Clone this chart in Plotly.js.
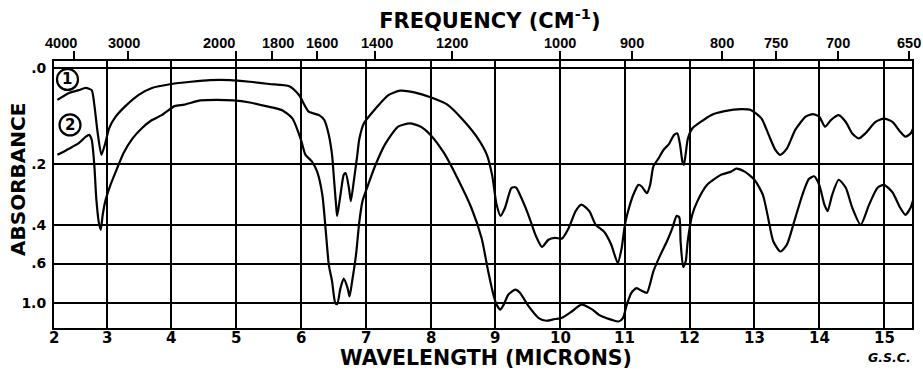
<!DOCTYPE html>
<html><head><meta charset="utf-8">
<script src="https://cdn.plot.ly/plotly-3.0.1.min.js"></script>
<style>html,body{margin:0;padding:0;background:#fff}</style>
</head><body><div id="chart" style="width:923px;height:370px"></div>
<script>
// Curve 1 (upper) : wavelength (microns) and absorbance
const wl1 = [2.24,2.42,2.57,2.68,2.77,2.81,2.86,2.92,2.98,3.04,3.14,3.29,3.49,3.70,4.00,4.30,4.60,4.90,5.21,5.51,5.82,5.97,6.12,6.28,6.36,6.43,6.48,6.51,6.55,6.56,6.61,6.66,6.69,6.74,6.77,6.82,6.87,6.90,6.97,7.15,7.35,7.53,7.75,8.00,8.26,8.53,8.74,8.87,8.95,9.02,9.08,9.15,9.25,9.32,9.38,9.51,9.62,9.72,9.82,9.92,10.03,10.13,10.24,10.33,10.45,10.55,10.68,10.79,10.89,10.95,11.00,11.05,11.13,11.21,11.26,11.34,11.39,11.44,11.52,11.60,11.68,11.76,11.81,11.85,11.89,11.91,11.94,11.97,12.04,12.17,12.33,12.54,12.80,12.95,13.11,13.22,13.32,13.40,13.50,13.63,13.79,13.90,14.00,14.09,14.18,14.30,14.41,14.51,14.61,14.71,14.87,15.00,15.13,15.25,15.33,15.41,15.46];
const abs1 = [0.057,0.044,0.039,0.035,0.039,0.066,0.122,0.176,0.148,0.114,0.090,0.069,0.048,0.035,0.028,0.024,0.021,0.021,0.024,0.028,0.032,0.048,0.080,0.087,0.097,0.129,0.176,0.241,0.345,0.363,0.289,0.229,0.224,0.267,0.310,0.241,0.176,0.139,0.104,0.074,0.048,0.040,0.043,0.052,0.066,0.101,0.139,0.176,0.229,0.322,0.363,0.333,0.267,0.266,0.289,0.359,0.443,0.502,0.466,0.457,0.460,0.414,0.345,0.322,0.345,0.399,0.429,0.491,0.597,0.509,0.399,0.345,0.289,0.258,0.263,0.284,0.258,0.206,0.185,0.163,0.150,0.129,0.126,0.150,0.195,0.202,0.172,0.139,0.115,0.101,0.087,0.079,0.075,0.077,0.094,0.129,0.163,0.176,0.161,0.118,0.090,0.085,0.090,0.111,0.097,0.087,0.101,0.126,0.137,0.126,0.101,0.094,0.101,0.122,0.133,0.126,0.111];
// Curve 2 (lower)
const wl2 = [2.24,2.42,2.57,2.68,2.73,2.77,2.81,2.84,2.88,2.91,2.94,2.98,3.06,3.16,3.26,3.39,3.54,3.70,3.85,4.05,4.20,4.45,4.70,4.95,5.21,5.46,5.71,5.87,6.00,6.07,6.17,6.25,6.33,6.38,6.43,6.48,6.53,6.56,6.61,6.66,6.72,6.75,6.79,6.85,6.90,6.95,7.02,7.15,7.30,7.50,7.68,7.85,8.00,8.21,8.42,8.63,8.79,8.89,8.97,9.02,9.08,9.13,9.20,9.31,9.38,9.51,9.67,9.79,9.92,10.02,10.18,10.33,10.50,10.60,10.71,10.80,10.90,10.97,11.03,11.10,11.18,11.26,11.34,11.44,11.55,11.65,11.73,11.80,11.84,11.86,11.90,11.94,11.97,12.04,12.12,12.27,12.48,12.64,12.72,12.85,13.00,13.13,13.21,13.29,13.40,13.50,13.61,13.74,13.84,13.92,14.00,14.08,14.13,14.20,14.30,14.41,14.51,14.64,14.77,14.90,15.00,15.13,15.25,15.33,15.41,15.46];
const abs2 = [0.176,0.161,0.148,0.133,0.129,0.140,0.202,0.299,0.389,0.420,0.359,0.310,0.258,0.212,0.172,0.139,0.115,0.097,0.087,0.069,0.066,0.058,0.057,0.058,0.062,0.069,0.077,0.094,0.140,0.176,0.193,0.220,0.289,0.415,0.609,0.736,1.000,1.017,0.804,0.714,0.804,0.903,0.737,0.545,0.389,0.310,0.267,0.202,0.150,0.111,0.104,0.111,0.129,0.172,0.240,0.333,0.460,0.655,0.880,1.027,1.125,1.027,0.880,0.821,0.856,1.050,1.370,1.490,1.410,1.370,1.170,1.027,1.125,1.260,1.370,1.450,1.530,1.370,1.027,0.856,0.804,0.833,0.856,0.655,0.545,0.473,0.415,0.363,0.369,0.473,0.625,0.584,0.473,0.359,0.310,0.258,0.229,0.220,0.212,0.220,0.243,0.289,0.369,0.473,0.527,0.491,0.389,0.289,0.241,0.233,0.258,0.322,0.345,0.289,0.243,0.267,0.333,0.399,0.322,0.267,0.258,0.281,0.333,0.359,0.333,0.299];

const wlTicks = [2,3,4,5,6,7,8,9,10,11,12,13,14,15];
const wlTickLabels = ['2','3','4','5','6','7','8','9','10','11','12','13','14','15'];
const freqTicks = [4000,3000,2000,1800,1600,1400,1200,1000,900,800,750,700,650];
const freqTickLabels = ['4000','3000','2000','1800','1600','1400','1200','1000','900','800','750','700','650'];
const absTicks = [0,0.2,0.4,0.6,1.0];
const absTickLabels = ['.0','.2','.4','.6','1.0'];
const curveLabels = ['1','2'];

// chart scale: absorbance axis is linear in transmittance
const toT = a => Math.pow(10, -a);
const X0 = 2.188, X1 = 15.432;
const Y0 = 0.0046, Y1 = 1.0256;
const freqShift = [-13,-4,-17,6,5,2,0,0,0,0,0,0,0];
const F = 'DejaVu Sans';
const bold = (size, fam) => ({family: fam || F, size: size, weight: 'bold', color: '#000'});
const wlPos = wlTicks.map(v => v === 2 ? X0 + 0.002 : v);

const traces = [
  {x: wl1, y: abs1.map(toT), mode:'lines', line:{color:'#000', width:2.2, shape:'spline', smoothing:0.6}, hoverinfo:'skip'},
  {x: wl2, y: abs2.map(toT), mode:'lines', line:{color:'#000', width:2.2, shape:'spline', smoothing:0.6}, hoverinfo:'skip'},
  {x: [X0, X1], y: [null, null], xaxis:'x2', mode:'lines', hoverinfo:'skip', showlegend:false}
];

const annotations = freqTicks.map((f,i) => ({
  x: 1e4/f, xref:'x', y:1, yref:'paper', yanchor:'middle', xanchor:'center', yshift:18, xshift:freqShift[i],
  text: freqTickLabels[i], showarrow:false, font: bold(14.5, 'Liberation Sans')
}));
wlPos.forEach((p,i) => annotations.push({
  x: p, xref:'x', y:0, yref:'paper', yanchor:'middle', xanchor:'center', yshift:-9.5,
  text: wlTickLabels[i], showarrow:false, borderpad:0, font: bold(15)
}));
annotations.push({x:0.503, xref:'paper', y:-(358-328)/267, yref:'paper', xanchor:'center', yanchor:'middle', text:'WAVELENGTH (MICRONS)', showarrow:false, borderpad:0, font: bold(20.5)});
annotations.push({x:0, xref:'paper', xshift:-36, y:(328-180)/267, yref:'paper', xanchor:'center', yanchor:'middle', textangle:-90, text:'ABSORBANCE', showarrow:false, font: bold(20)});
annotations.push({x:1, xref:'paper', y:-(357-328)/267, yref:'paper', xanchor:'right', yanchor:'middle', text:'<i>G.S.C.</i>', showarrow:false, borderpad:0, font: bold(12.5)});
const circles = [{x:2.396, y:0.955}, {x:2.435, y:0.781}];
const shapes = circles.map(c => ({type:'circle', xref:'x', yref:'y', xsizemode:'pixel', ysizemode:'pixel', xanchor:c.x, yanchor:c.y, x0:-10.5, x1:10.5, y0:-10.5, y1:10.5, line:{color:'#000', width:2.2}, fillcolor:'#fff', layer:'above'}));
circles.forEach((c,i) => annotations.push({x:c.x, y:c.y, xref:'x', yref:'y', text:curveLabels[i], showarrow:false, font: bold(15)}));

const layout = {
  width:923, height:370,
  margin:{l:54, r:11, t:61, b:42, pad:0},
  paper_bgcolor:'#fff', plot_bgcolor:'#fff',
  showlegend:false,
  title:{text:'FREQUENCY (CM<sup>-1</sup>)', xref:'paper', x:0.508, xanchor:'center', y:1-20.5/370, yanchor:'middle', yref:'container', font: bold(21)},
  xaxis:{range:[X0,X1], tickvals: wlPos, showticklabels:false,
    showgrid:true, gridcolor:'#000', gridwidth:2, showline:true, linecolor:'#000', linewidth:2, mirror:true,
    ticks:'', zeroline:false},
  xaxis2:{range:[X0,X1], overlaying:'x', side:'top', tickvals: freqTicks.map(f => 1e4/f), showticklabels:false,
    ticks:'outside', ticklen:9, tickwidth:2, tickcolor:'#000', showgrid:false, showline:false, zeroline:false},
  yaxis:{range:[Y0,Y1], tickvals: absTicks.map(toT), ticktext: absTickLabels,
    showgrid:true, gridcolor:'#000', gridwidth:2, showline:true, linecolor:'#000', linewidth:2, mirror:true,
    ticks:'', ticklen:0, ticklabelstandoff:3, zeroline:false,
    tickfont: bold(14)},
  annotations, shapes
};
Plotly.newPlot('chart', traces, layout, {staticPlot:true});
</script></body></html>
